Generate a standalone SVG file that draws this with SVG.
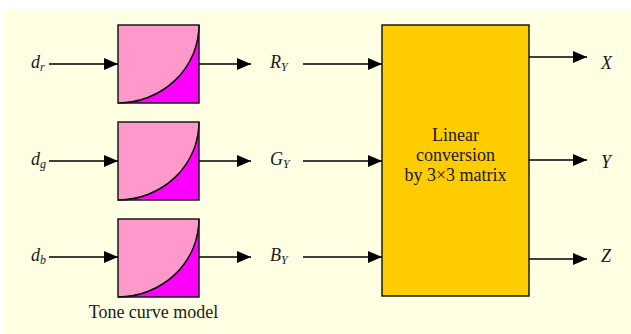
<svg xmlns="http://www.w3.org/2000/svg" width="631" height="334" viewBox="0 0 631 334">
<style>
.lbl{font-family:"Liberation Serif",serif;font-size:18px;font-style:italic;fill:#1a1a1a}
.sub{font-size:12px}
.txt{font-family:"Liberation Serif",serif;font-size:18px;fill:#1a1a1a;text-anchor:middle}
.conn{stroke:#000;stroke-width:1.3;fill:none;marker-end:url(#ah)}
.tone{stroke:#1a1a1a;stroke-width:1.5}
</style>
<defs>
<marker id="ah" viewBox="0 0 14 12" refX="14" refY="6" markerWidth="14" markerHeight="12" markerUnits="userSpaceOnUse" orient="auto">
<path d="M0,0 L14,6 L0,12 z" fill="#000"/>
</marker>
<g id="tonecurve">
<rect x="0" y="0" width="81" height="78" fill="#FF00FF"/>
<path d="M0,0 L81,0 A81,78 0 0 1 0,78 Z" fill="#FF99CC"/>
<path d="M0,78 A81,78 0 0 0 81,0" fill="none" stroke="#000" stroke-width="1.5"/>
<rect x="0" y="0" width="81" height="78" fill="none" stroke="#1a1a1a" stroke-width="1.5"/>
</g>
</defs>
<rect x="4" y="9" width="627" height="325" fill="#FFFFE3"/>
<g id="tone-r"><use href="#tonecurve" x="118" y="25"/></g>
<g id="tone-g"><use href="#tonecurve" x="118" y="122"/></g>
<g id="tone-b"><use href="#tonecurve" x="118" y="219"/></g>
<g id="matrix">
<rect x="382" y="25" width="147" height="271" fill="#FFCC00" stroke="#1a1a1a" stroke-width="1.5"/>
<text class="txt" x="455.5" y="140.5">Linear</text>
<text class="txt" x="455.5" y="160.5">conversion</text>
<text class="txt" x="455.5" y="180.5">by 3×3 matrix</text>
</g>
<g id="labels">
<text class="lbl" x="31" y="68">d<tspan class="sub" dy="3">r</tspan></text>
<text class="lbl" x="31" y="165">d<tspan class="sub" dy="3">g</tspan></text>
<text class="lbl" x="31" y="261">d<tspan class="sub" dy="3">b</tspan></text>
<text class="lbl" x="270" y="68">R<tspan class="sub" dy="3">Y</tspan></text>
<text class="lbl" x="270" y="165">G<tspan class="sub" dy="3">Y</tspan></text>
<text class="lbl" x="270" y="261">B<tspan class="sub" dy="3">Y</tspan></text>
<text class="lbl" x="601" y="69">X</text>
<text class="lbl" x="601" y="168">Y</text>
<text class="lbl" x="601" y="262">Z</text>
<text class="txt" x="153.5" y="318">Tone curve model</text>
</g>
<g id="connectors">
<line class="conn" x1="49" y1="64" x2="118" y2="64"/>
<line class="conn" x1="49" y1="161" x2="118" y2="161"/>
<line class="conn" x1="49" y1="257" x2="118" y2="257"/>
<line class="conn" x1="199" y1="64" x2="251" y2="64"/>
<line class="conn" x1="199" y1="161" x2="251" y2="161"/>
<line class="conn" x1="199" y1="257" x2="251" y2="257"/>
<line class="conn" x1="303" y1="64" x2="382" y2="64"/>
<line class="conn" x1="303" y1="161" x2="382" y2="161"/>
<line class="conn" x1="303" y1="257" x2="382" y2="257"/>
<line class="conn" x1="529" y1="57" x2="587" y2="57"/>
<line class="conn" x1="529" y1="160" x2="587" y2="160"/>
<line class="conn" x1="529" y1="259" x2="587" y2="259"/>
</g>
</svg>
